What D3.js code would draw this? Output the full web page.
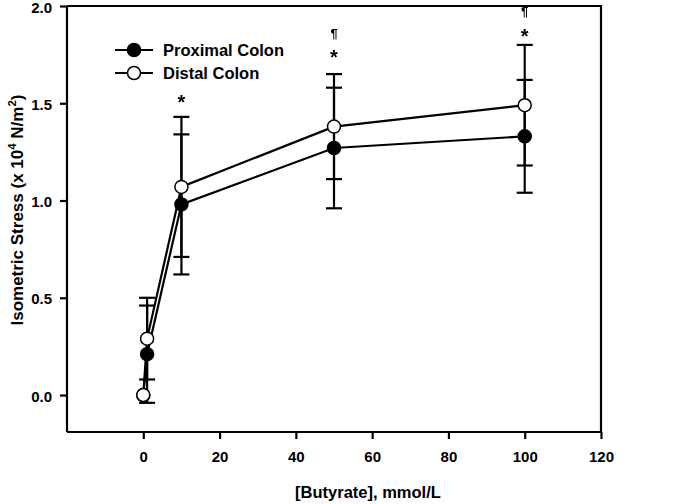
<!DOCTYPE html>
<html><head><meta charset="utf-8">
<script src="https://cdn.jsdelivr.net/npm/d3@7"></script>
<style>body{margin:0;background:#fff}svg{display:block;font-family:"Liberation Sans",Arial,sans-serif;font-weight:bold}</style>
</head><body>
<script>
const concentrations = [0, 1, 10, 50, 100];
const proximalMean = [0, 0.21, 0.98, 1.27, 1.33];
const proximalErr  = [0, 0.25, 0.36, 0.31, 0.29];
const distalMean   = [0, 0.29, 1.07, 1.38, 1.49];
const distalErr    = [0, 0.21, 0.36, 0.27, 0.31];
const xTicks = [0, 20, 40, 60, 80, 100, 120];
const yTicks = [0.0, 0.5, 1.0, 1.5, 2.0];
const annotations = [
  {x: 10, y: 1.53, t: "*"},
  {x: 50, y: 1.86, t: "¶"},
  {x: 50, y: 1.76, t: "*"},
  {x: 100, y: 1.97, t: "¶"},
  {x: 100, y: 1.87, t: "*"}
];
const seriesNames = ["Proximal Colon", "Distal Colon"];

const W = 687, H = 504;
const svg = d3.select("body").append("svg").attr("width", W).attr("height", H);
const defs = svg.append("defs");
defs.append("filter").attr("id","gray").append("feOffset").attr("dx",0).attr("dy",0);
const xMin = -20, xMax = 120, yMin = -0.19, yMax = 2.0;
const x = d3.scaleLinear().domain([xMin, xMax]).range([67, 601]);
const y = d3.scaleLinear().domain([yMin, yMax]).range([432, 6]);

// frame
svg.append("path").attr("d", `M${x(xMin)},${y(yMax)}H${x(xMax)}V${y(yMin)}`).attr("fill","none").attr("stroke","#000").attr("stroke-width",2.2);

const xa = svg.append("g").attr("transform",`translate(0,${y(yMin)})`)
  .call(d3.axisBottom(x).tickValues(xTicks).tickFormat(d3.format("d")).tickSizeOuter(0).tickSize(7).tickPadding(12));
const ya = svg.append("g").attr("transform",`translate(${x(xMin)},0)`)
  .call(d3.axisLeft(y).tickValues(yTicks).tickFormat(d3.format(".1f")).tickSizeOuter(0).tickSize(7).tickPadding(8));
[xa, ya].forEach(g => {
  g.select(".domain").attr("stroke-width",2.2);
  g.selectAll(".tick line").attr("stroke-width",2.2);
  g.selectAll("text").attr("font-size",15).attr("font-weight","bold").attr("font-family","'Liberation Sans',Arial,sans-serif").attr("fill","#000");
});
ya.selectAll("text").attr("dy","0.4em");
xa.select(".domain").attr("d", `M${x(xMin)},0H${x(xMax)}`);
ya.select(".domain").attr("d", `M0,${y(yMin)}V${y(yMax)}`);

// axis titles
svg.append("text").attr("x", 368).attr("y", 498).attr("text-anchor","middle").attr("font-size",16.5).text("[Butyrate], mmol/L");
const yt = svg.append("text").attr("transform",`translate(23,210) rotate(-90)`).attr("text-anchor","middle").attr("font-size",17);
yt.append("tspan").text("Isometric Stress (x 10");
yt.append("tspan").attr("dy",-7).attr("font-size",11.5).text("4");
yt.append("tspan").attr("dy",7).text(" N/m");
yt.append("tspan").attr("dy",-7).attr("font-size",11.5).text("2");
yt.append("tspan").attr("dy",7).text(")");

const line = d3.line().x(d => x(d[0])).y(d => y(d[1]));
const series = [
  {mean: proximalMean, err: proximalErr, fill: "#000"},
  {mean: distalMean, err: distalErr, fill: "#fff"}
];
// error bars
series.forEach(s => {
  const g = svg.append("g").attr("stroke","#000").attr("stroke-width",2.2);
  concentrations.forEach((c, i) => {
    if (s.err[i] === 0) return;
    const lo = s.mean[i] - s.err[i], hi = s.mean[i] + s.err[i];
    g.append("line").attr("x1",x(c)).attr("x2",x(c)).attr("y1",y(lo)).attr("y2",y(hi));
    [lo, hi].forEach(v => g.append("line").attr("x1",x(c)-8).attr("x2",x(c)+8).attr("y1",y(v)).attr("y2",y(v)));
  });
});
series.forEach(s => {
  svg.append("path").datum(concentrations.map((c,i)=>[c, s.mean[i]])).attr("d", line)
    .attr("fill","none").attr("stroke","#000").attr("stroke-width",2.2);
});
series.forEach(s => {
  svg.append("g").selectAll("circle").data(concentrations.map((c,i)=>[c, s.mean[i]])).join("circle")
    .attr("cx", d => x(d[0])).attr("cy", d => y(d[1])).attr("r",6.5)
    .attr("fill", s.fill).attr("stroke","#000").attr("stroke-width",1.5);
});

// annotations
svg.append("g").attr("filter","url(#gray)").selectAll("text").data(annotations).join("text")
  .attr("x", d => x(d.x)).attr("y", d => y(d.y)).attr("text-anchor","middle").attr("fill", "#000")
  .attr("font-size", d => d.t === "*" ? 20 : 13).attr("dy", d => d.t === "*" ? "0.57em" : "0.35em")
  .text(d => d.t);

// legend
const lg = svg.append("g");
seriesNames.forEach((n, i) => {
  const ly = 50 + i * 23;
  lg.append("line").attr("x1",115).attr("x2",153).attr("y1",ly).attr("y2",ly).attr("stroke","#000").attr("stroke-width",2.2);
  lg.append("circle").attr("cx",134).attr("cy",ly).attr("r",6.5).attr("fill", series[i].fill).attr("stroke","#000").attr("stroke-width",1.5);
  lg.append("text").attr("x",163).attr("y",ly).attr("dy","0.35em").attr("font-size",16.5).text(n);
});
</script>
</body></html>
